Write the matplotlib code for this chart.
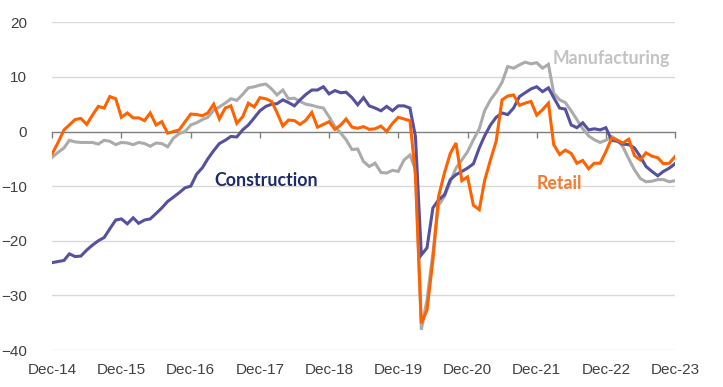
import numpy as np
import pandas as pd
import matplotlib
matplotlib.use("Agg")
import matplotlib.pyplot as plt
from matplotlib import font_manager

# ---- data (monthly, Dec-14 .. Dec-23) ----
start_month = "2014-12-01"
tick_labels = ["Dec-14", "Dec-15", "Dec-16", "Dec-17", "Dec-18",
               "Dec-19", "Dec-20", "Dec-21", "Dec-22", "Dec-23"]

construction = [
    -24.0, -23.8, -23.6, -22.4, -22.9, -22.8, -21.7, -20.8, -20.0, -19.4, -17.8, -16.2,
    -16.0, -16.9, -15.8, -16.8, -16.2, -16.0, -15.0, -14.0, -12.8, -12.0, -11.2, -10.3,
    -10.0, -7.8, -6.6, -5.0, -3.5, -2.2, -1.6, -0.9, -1.0, 0.3, 1.2, 2.5,
    3.8, 4.6, 5.0, 5.1, 5.8, 5.3, 4.7, 5.8, 6.8, 7.6, 7.6, 8.2,
    6.9, 7.5, 7.1, 7.2, 6.2, 4.9, 6.2, 4.7, 4.3, 3.8, 4.6, 3.8,
    4.7, 4.7, 4.3, -0.9, -22.6, -21.3, -14.0, -12.5, -11.6, -8.8, -7.9, -7.3,
    -6.7, -5.9, -3.0, -0.8, 1.2, 2.6, 3.4, 3.1, 4.3, 6.4, 7.1, 7.8,
    8.2, 7.3, 8.0, 6.2, 4.3, 4.1, 1.2, 0.7, 1.6, 0.3, 0.5, 0.3,
    0.7, -1.6, -1.8, -2.3, -2.4, -3.0, -4.6, -6.4, -7.3, -8.1, -7.3, -6.7,
    -5.9,
]

manufacturing = [
    -4.7, -3.8, -3.0, -1.6, -1.9, -2.0, -2.0, -2.0, -2.3, -1.6, -1.8, -2.4,
    -2.0, -2.1, -2.4, -2.0, -2.2, -2.7, -2.1, -2.2, -2.8, -1.2, -0.4, 0.0,
    1.2, 1.6, 2.2, 2.6, 3.9, 4.5, 5.2, 6.0, 5.7, 6.8, 8.0, 8.2,
    8.5, 8.7, 7.8, 6.7, 7.6, 6.0, 6.1, 5.5, 5.0, 4.8, 4.5, 4.3,
    2.7, 0.9, -0.3, -1.5, -3.3, -3.2, -5.5, -6.4, -5.8, -7.5, -7.6, -7.1,
    -7.3, -5.2, -4.3, -7.0, -36.3, -30.8, -22.3, -13.5, -11.9, -9.2, -6.7, -5.2,
    -3.7, -1.5, 0.5, 3.8, 5.8, 7.2, 9.0, 11.9, 11.6, 12.2, 12.7, 12.4,
    12.6, 11.6, 12.3, 7.0, 5.8, 5.3, 3.8, 2.2, 0.5, -0.8, -1.5, -2.0,
    -1.6, -0.9, -1.6, -2.8, -5.0, -7.0, -8.6, -9.2, -9.1, -8.8, -8.8, -9.2,
    -9.0,
]

retail = [
    -4.0, -2.0, 0.3, 1.2, 2.2, 2.4, 1.3, 3.0, 4.6, 4.3, 6.4, 6.0,
    2.6, 3.4, 2.5, 2.5, 2.0, 3.4, 1.2, 1.8, -0.3, 0.0, 0.3, 1.8,
    3.2, 3.1, 2.9, 3.4, 5.0, 2.3, 4.3, 4.7, 1.5, 2.7, 5.2, 4.5,
    6.2, 6.0, 5.5, 3.5, 1.0, 2.1, 2.0, 1.3, 2.1, 3.5, 0.8, 1.3,
    1.8, 0.4, 1.2, 2.3, 0.8, 0.6, 0.9, 0.4, 0.5, 1.0, 0.0, 1.5,
    2.6, 2.3, 2.0, -8.0, -35.1, -32.7, -23.5, -11.9, -7.6, -4.0, -2.1, -9.0,
    -8.3, -13.5, -14.3, -9.0, -5.2, -1.8, 5.8, 6.5, 6.7, 4.8, 5.2, 5.5,
    3.0, 4.0, 5.2, -2.4, -4.2, -3.4, -4.0, -5.8, -5.3, -6.8, -5.8, -5.8,
    -3.7, -1.2, -1.6, -2.1, -1.4, -4.4, -5.2, -3.9, -4.5, -4.8, -5.9, -5.8,
    -4.6,
]

series_names = ["Manufacturing", "Construction", "Retail"]

# ---- styling ----
installed = {f.name for f in font_manager.fontManager.ttflist}
tick_font = ["Liberation Sans Narrow", "DejaVu Sans"] if "Liberation Sans Narrow" in installed else ["Liberation Sans", "DejaVu Sans"]
label_font = ["Lato", "DejaVu Sans"]

c_constr = "#55519F"
c_manuf = "#ABABAB"
c_retail = "#FF6200"

dates = pd.date_range(start_month, periods=len(construction), freq="MS")

fig = plt.figure(figsize=(7.23, 3.87), dpi=100)
ax = fig.add_axes([0.0723, 0.0956, 0.9336 - 0.0723, 0.9424 - 0.0956])

ax.plot(dates, manufacturing, color=c_manuf, lw=2.2, zorder=3, solid_joinstyle="miter")
ax.plot(dates, construction, color=c_constr, lw=2.2, zorder=4, solid_joinstyle="miter")
ax.plot(dates, retail, color=c_retail, lw=2.2, zorder=5, solid_joinstyle="miter")

ax.set_ylim(-40, 20)
ax.set_xlim(dates[0], dates[-1])
ax.set_yticks([-40, -30, -20, -10, 0, 10, 20])
for v in [-40, -30, -20, -10, 10, 20]:
    ax.axhline(v, color="#D9D9D9", lw=1.0, zorder=1)

for s in ["top", "right", "left"]:
    ax.spines[s].set_visible(False)
ax.spines["bottom"].set_position(("data", 0))
ax.spines["bottom"].set_color("#7F7F7F")
ax.spines["bottom"].set_linewidth(1.0)
ax.spines["bottom"].set_zorder(2)

tick_dates = dates[::12]
ax.set_xticks(tick_dates)
ax.tick_params(axis="x", direction="out", length=4, width=1.0, color="#7F7F7F",
               labelbottom=False)
ax.tick_params(axis="y", length=0, pad=18, labelsize=11, labelcolor="#404040")
for lab in ax.get_yticklabels():
    lab.set_family(tick_font)

sec = ax.secondary_xaxis(0)
sec.set_xticks(tick_dates)
sec.set_xticklabels(tick_labels)
sec.tick_params(length=0, pad=9, labelsize=11, labelcolor="#404040")
sec.spines["bottom"].set_visible(False)
for lab in sec.get_xticklabels():
    lab.set_family(tick_font)

# series labels
ax.text(dates[37], -9.0, "Construction", color="#1F2A6B", fontsize=12.8,
        fontweight="bold", family=label_font, ha="center", va="center")
ax.text(dates[97], 13.4, "Manufacturing", color="#C3C3C3", fontsize=12.8,
        fontweight="bold", family=label_font, ha="center", va="center")
ax.text(dates[88], -9.6, "Retail", color="#F47B2F", fontsize=12.8,
        fontweight="bold", family=label_font, ha="center", va="center")

fig.savefig("out.png", dpi=100)
